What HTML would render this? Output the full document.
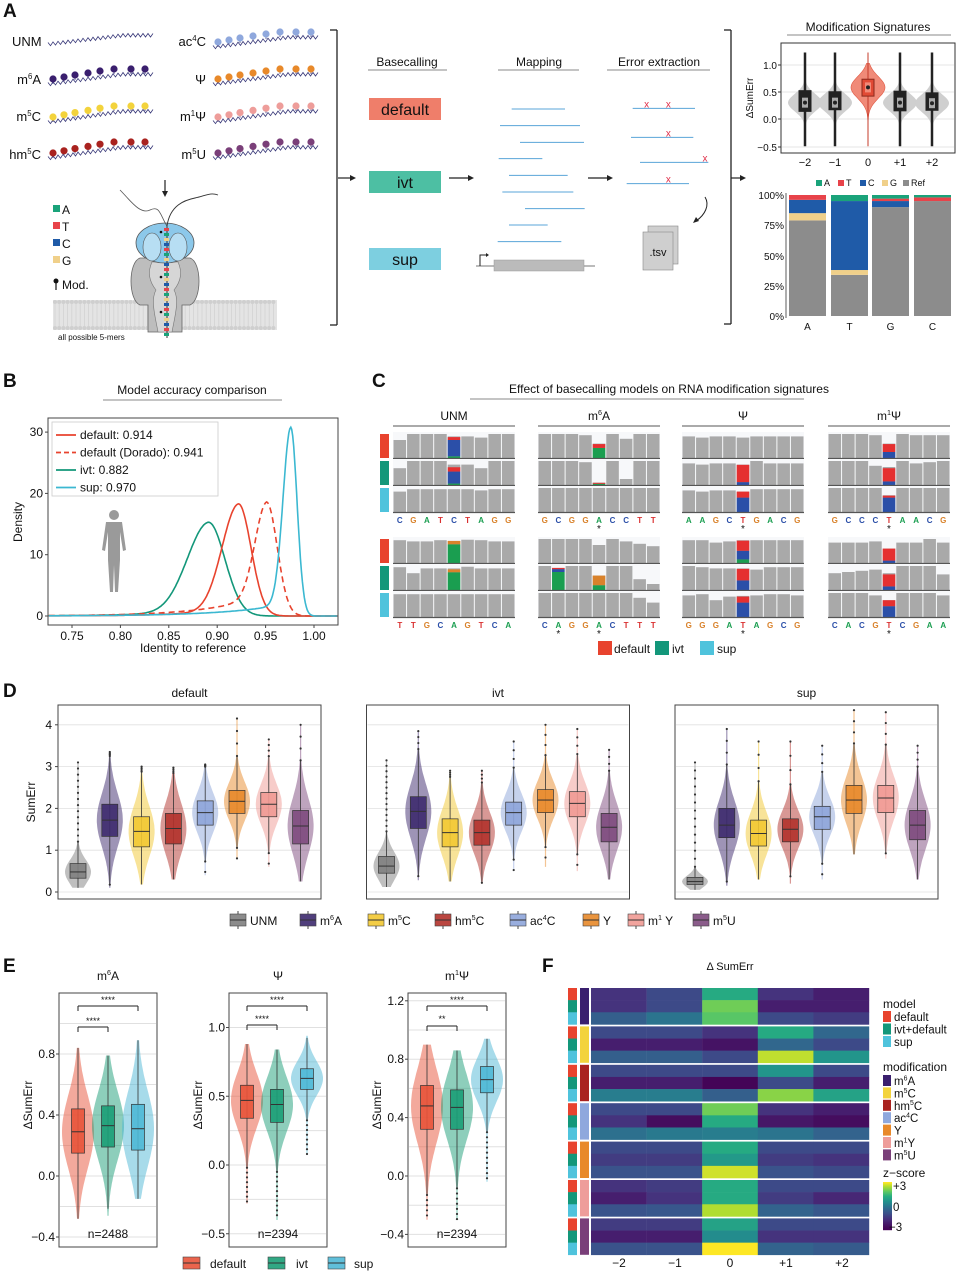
<!DOCTYPE html>
<html><head><meta charset="utf-8"><style>
html,body{margin:0;padding:0;background:#fff;}
svg{display:block;font-family:"Liberation Sans",Arial,sans-serif;}
</style></head><body>
<svg id="s" width="959" height="1280" viewBox="0 0 959 1280" xmlns="http://www.w3.org/2000/svg"></svg>
<script>
let s='';
function T(x,y,t,o){o=o||{};s+=`<text x="${x}" y="${y}" font-size="${o.fs||11}" text-anchor="${o.a||'start'}" fill="${o.c||'#111'}"${o.fw?' font-weight="bold"':''}${o.tr?` transform="${o.tr}"`:''}>${t}</text>`;}
function R(x,y,w,h,f,e){s+=`<rect x="${x}" y="${y}" width="${w}" height="${h}" fill="${f}" ${e||''}/>`;}
function L(x1,y1,x2,y2,c,w,e){s+=`<line x1="${x1}" y1="${y1}" x2="${x2}" y2="${y2}" stroke="${c||'#333'}" stroke-width="${w||1}" ${e||''}/>`;}
function C(x,y,r,f,e){s+=`<circle cx="${x}" cy="${y}" r="${r}" fill="${f}" ${e||''}/>`;}
function P(d,f,st,w,e){s+=`<path d="${d}" fill="${f||'none'}" stroke="${st||'none'}" stroke-width="${w||1}" ${e||''}/>`;}
function sup(b,n,r,fs){return `${b}<tspan dy="-${fs*0.4}" font-size="${fs*0.6}">${n}</tspan><tspan dy="${fs*0.4}">${r}</tspan>`;}
function arrow(x1,y1,x2,y2){L(x1,y1,x2-4,y2,'#222',1.2);P(`M${x2},${y2} l-6,-3 l0,6 z`,'#222');}

// ===== Panel A =====
T(3,17,'A',{fs:19,fw:1});
const modc={m6A:'#3a1f6e',m5C:'#f3d33c',hm5C:'#a9221f',ac4C:'#8fa8dd',Y:'#e8892a',m1Y:'#ee9d9a',m5U:'#7a3f79',UNM:'#7f7f7f'};
function wave(x0,x1,yl,yr,c){let d='';for(let x=x0,i=0;x<=x1;x+=2.5,i++){let t=(x-x0)/(x1-x0);let yb=yl+(yr-yl)*Math.min(1,t*1.4);let y=yb+(i%2?2:-1.5);d+=(i?'L':'M')+x.toFixed(1)+','+y.toFixed(1);}P(d,'none',c||'#3a3a7a',0.8);}
function strand(xs,yl,yr,c){wave(xs[0]-5,xs[7]+8,yl+5,yr+5);xs.forEach((x,i)=>{let t=i/7;let y=yl+(yr-yl)*Math.min(1,t*1.4);L(x,y,x,y+5,'#3a3a7a',0.8);C(x,y,3.6,c);});}
const XL=[53,64,75,88,100,114,131,145],XR=[218,229,240,253,266,280,296,311];
wave(48,154,44,35);
T(12,46,'UNM',{fs:13});
[[79,69,'m6A'],[117,106,'m5C'],[153,142,'hm5C']].forEach(r=>{strand(XL,r[0],r[1],modc[r[2]]);});
T(41,84,sup('m','6','A',13),{fs:13,a:'end'});
T(41,121,sup('m','5','C',13),{fs:13,a:'end'});
T(41,159,sup('hm','5','C',13),{fs:13,a:'end'});
strand(XR,42,32,modc.ac4C);strand(XR,79,69,modc.Y);strand(XR,117,106,modc.m1Y);strand(XR,153,142,modc.m5U);
T(206,46,sup('ac','4','C',13),{fs:13,a:'end'});
T(206,84,'Ψ',{fs:13,a:'end'});
T(206,121,sup('m','1','Ψ',13),{fs:13,a:'end'});
T(206,159,sup('m','5','U',13),{fs:13,a:'end'});
L(165,180,165,193,'#222',1.2);P('M165,197 l-3,-6 l6,0z','#222');
R(53,300,224,30,'#e4e4e4');
for(let x=55;x<277;x+=4.2){C(x,302,2,'#cfcfcf');C(x,328,2,'#cfcfcf');L(x,304,x,326,'#d2d2d2',0.8);}
P('M140,258 C128,262 128,300 140,305 L148,305 L148,332 L182,332 L182,305 L190,305 C202,300 202,262 190,258 Z','#bdbdbd','#666',0.8);
P('M152,262 C146,275 152,285 156,290 C150,300 156,320 158,332 L172,332 C174,320 180,300 174,290 C178,285 184,275 178,262Z','#d6d6d6','#777',0.6);
s+=`<ellipse cx="165" cy="243" rx="29" ry="20" fill="#8cc8ea" stroke="#555" stroke-width="0.8"/>`;
s+=`<ellipse cx="152" cy="247" rx="9" ry="14" fill="#b7def3" stroke="#555" stroke-width="0.6"/>`;
s+=`<ellipse cx="178" cy="247" rx="9" ry="14" fill="#b7def3" stroke="#555" stroke-width="0.6"/>`;
P('M120,190 C130,200 140,215 150,210 S160,215 167,226','none','#555',0.8);
P('M167,226 C170,205 185,200 195,198 S210,192 218,195','none','#333',0.9);
L(167,225,167,338,'#333',1);
const bc=['#e8434a','#1aa37a','#f0d08a','#1f5ba8'];
for(let i=0;i<22;i++){R(164,228+i*5,5,3,bc[i%4]);}
[[161,232],[161,277],[161,312]].forEach(p=>C(p[0],p[1],1.3,'#111'));
[['A','#1aa37a',214],['T','#e8434a',231],['C','#1f5ba8',248],['G','#f0d08a',265]].forEach(a=>{R(53,a[2]-9,7,7,a[1]);T(62,a[2],a[0],{fs:12});});
C(56,281,2.5,'#111');L(56,281,56,290,'#111',1.2);T(62,289,'Mod.',{fs:12});
T(58,340,'all possible 5-mers',{fs:8});
L(337,30,337,325,'#222',1.3);L(330,30,337,30,'#222',1.3);L(330,325,337,325,'#222',1.3);
arrow(338,178,356,178);
T(407,66,'Basecalling',{fs:12,a:'middle'});L(368,70,447,70,'#888',1);
R(369,98,72,22,'#ef7e6a');T(405,115,'default',{fs:16,a:'middle'});
R(369,171,72,22,'#4dbfa3');T(405,188,'ivt',{fs:16,a:'middle'});
R(369,248,72,22,'#7dcfe0');T(405,265,'sup',{fs:16,a:'middle'});
arrow(449,178,474,178);
T(539,66,'Mapping',{fs:12,a:'middle'});L(498,70,579,70,'#888',1);
[[545,705,207],[510,750,257],[570,762,307],[506,637,356],[537,713,406],[517,730,456],[585,764,506],[537,653,555],[503,694,605]].forEach(l=>L(l[0]/3+330,l[2]/3+40,l[1]/3+330,l[2]/3+40,'#5aa5d8',1));
L(476,266,595,266,'#777',1);R(494,260,90,11,'#bbb','stroke="#999" stroke-width="0.5"');
P('M480,266 L480,255 L487,255','none','#222',1);P('M489,255 l-3,-2 l0,4z','#222');
arrow(588,178,613,178);
T(659,66,'Error extraction',{fs:12,a:'middle'});L(607,70,710,70,'#888',1);
[[908,1095,205,[950,1015]],[903,1090,292,[1015]],[930,1135,367,[1125]],[890,1077,431,[1015]]].forEach(l=>{let y=l[2]/3+40;L(l[0]/3+330,y,l[1]/3+330,y,'#5aa5d8',1);l[3].forEach(x=>T(x/3+330,y-1,'x',{fs:10,a:'middle',c:'#e0304a'}));});
P('M705,197 C710,205 705,215 696,221','none','#222',1);P('M693,223 l3,-6 l3,4z','#222');
R(648,226,30,38,'#cfcfcf','stroke="#888" stroke-width="0.6"');R(643,232,30,38,'#cfcfcf','stroke="#888" stroke-width="0.6"');
T(658,256,'.tsv',{fs:11,a:'middle'});
L(731,30,731,324,'#222',1.3);L(724,30,731,30,'#222',1.3);L(724,324,731,324,'#222',1.3);
arrow(731,178,746,178);
T(868,31,'Modification Signatures',{fs:12,a:'middle'});L(787,35,951,35,'#888',1);
R(781,43,174,110,'#fff','stroke="#333" stroke-width="1"');
[[1,65],[0.5,92],[0,119],[-0.5,147]].forEach(t=>{L(782,t[1],954,t[1],'#ddd',0.8);T(777,t[1]+4,t[0]==1?'1.0':t[0]==0.5?'0.5':t[0]==0?'0.0':'−0.5',{fs:10,a:'end'});L(778,t[1],781,t[1],'#333');});
T(753,98,'ΔSumErr',{fs:10,a:'middle',tr:'rotate(-90 753 98)'});
const yv=v=>119-v*54.5;
[[805,.3,.14,.52,'−2'],[835,.3,.17,.5,'−1'],[868,.58,.42,.73,'0'],[900,.3,.15,.51,'+1'],[932,.29,.16,.48,'+2']].forEach(b=>{
 let red=b[4]=='0';let pts=[],pts2=[];for(let v=-0.3;v<=1.05;v+=0.03){let w=17*Math.exp(-0.5*Math.pow((v-b[1])/(red?0.2:0.16),2));pts.push([b[0]-w,yv(v)]);pts2.unshift([b[0]+w,yv(v)]);}
 P('M'+pts.concat(pts2).map(p=>p[0].toFixed(1)+','+p[1].toFixed(1)).join('L')+'Z',red?'#f08a78':'#cfcfcf',red?'#e05a45':'none',0.6);
 L(b[0],yv(-0.5),b[0],yv(1.22),red?'#c43b2a':'#222',red?1:2.5);
 R(b[0]-6,yv(b[3]),12,yv(b[2])-yv(b[3]),red?'#e24a35':'#222','stroke="'+(red?'#8a2a1d':'#222')+'" stroke-width="1"');
 R(b[0]-3,yv(b[1])-5,6,10,red?'#f28a78':'#aaa');C(b[0],yv(b[1]),2,'#222');
 T(b[0],166,b[4],{fs:11,a:'middle'});});
[['A','#1aa37a',816],['T','#e8434a',838],['C','#1f5ba8',860],['G','#f0d08a',882],['Ref','#8c8c8c',903]].forEach(l=>{R(l[2],180,6,6,l[1]);T(l[2]+8,186,l[0],{fs:9});});
[['100%',195],['75%',225],['50%',256],['25%',286],['0%',316]].forEach(t=>T(784,t[1]+4,t[0],{fs:10,a:'end'}));
L(786,193,786,318,'#333',0.8);
const ys=p=>316-p*1.21;
[[789,'A',[[0,79,'#8c8c8c'],[79,85,'#f0d08a'],[85,96,'#1f5ba8'],[96,100,'#e8434a']]],[831,'T',[[0,34,'#8c8c8c'],[34,38,'#f0d08a'],[38,95,'#1f5ba8'],[95,100,'#1aa37a']]],[872,'G',[[0,90,'#8c8c8c'],[90,95,'#1f5ba8'],[95,97,'#e8434a'],[97,100,'#1aa37a']]],[914,'C',[[0,95,'#8c8c8c'],[95,98,'#e8434a'],[98,100,'#1aa37a']]]].forEach(b=>{b[2].forEach(g=>R(b[0],ys(g[1]),37,ys(g[0])-ys(g[1]),g[2]));T(b[0]+18.5,330,b[1],{fs:10,a:'middle'});});

// ===== Panel B =====
T(3,387,'B',{fs:19,fw:1});
T(192,394,'Model accuracy comparison',{fs:12,a:'middle'});L(103,400,282,400,'#888',1);
R(48,418,290,207,'#fff','stroke="#444" stroke-width="1"');
const bx=v=>72+(v-0.75)*968,by=d=>616-d*6.13;
[[0.75,'0.75'],[0.8,'0.80'],[0.85,'0.85'],[0.9,'0.90'],[0.95,'0.95'],[1,'1.00']].forEach(t=>{L(bx(t[0]),625,bx(t[0]),628,'#444');T(bx(t[0]),640,t[1],{fs:12,a:'middle'});});
[[0,'0'],[10,'10'],[20,'20'],[30,'30']].forEach(t=>{L(45,by(t[0]),48,by(t[0]),'#444');T(43,by(t[0])+4,t[1],{fs:12,a:'end'});});
T(193,652,'Identity to reference',{fs:12,a:'middle'});
T(22,522,'Density',{fs:12,a:'middle',tr:'rotate(-90 22 522)'});
function dens(m,h,sl,sr,tw,tl){let d='';for(let v=0.726;v<=1.024;v+=0.001){let y;if(v>=m)y=h*Math.exp(-0.5*Math.pow((v-m)/sr,2));else y=h*((1-tw)*Math.exp(-0.5*Math.pow((v-m)/sl,2))+tw*Math.exp((v-m)/tl));d+=(d?'L':'M')+bx(v).toFixed(1)+','+by(y).toFixed(1);}return d;}
P(dens(0.891,15.3,0.022,0.017,0.08,0.05),'none','#13977a',1.6);
P(dens(0.922,18.3,0.017,0.013,0.07,0.05),'none','#e8432e',1.6);
P(dens(0.951,18.6,0.012,0.011,0.2,0.055),'none','#e8432e',1.6,'stroke-dasharray="6,4"');
P(dens(0.976,30.8,0.008,0.0065,0.07,0.06),'none','#3bb8d1',1.6);
R(52,422,166,74,'#fff','stroke="#ccc" stroke-width="0.8"');
[['default: 0.914','#e8432e',''],['default (Dorado): 0.941','#e8432e','stroke-dasharray="5,3"'],['ivt: 0.882','#13977a',''],['sup: 0.970','#3bb8d1','']].forEach((l,i)=>{let y=435+i*17.5;L(56,y,76,y,l[1],1.8,l[2]);T(80,y+4,l[0],{fs:12});});
s+=`<g fill="#9a9a9a"><circle cx="114" cy="515" r="5"/><path d="M106,522 L122,522 L126,550 L123,551 L120,532 L120,560 L118,592 L115,592 L114,565 L113,592 L110,592 L108,560 L108,532 L105,551 L102,550 Z"/></g>`;

// ===== Panel C =====
T(372,387,'C',{fs:19,fw:1});
T(669,393,'Effect of basecalling models on RNA modification signatures',{fs:12,a:'middle'});L(470,399,804,399,'#888',1);
const cx0=[393,538,682,828];
[['UNM'],[sup('m','6','A',12)],['Ψ'],[sup('m','1','Ψ',12)]].forEach((h,i)=>{T(cx0[i]+61,420,h[0],{fs:12,a:'middle'});L(cx0[i],426,cx0[i]+122,426,'#777',1.2);});
const G='#1a9e50',B='#2b4fa8',Rr='#e53030',Or='#d9822b';
const bcol={A:'#1a9e50',C:'#2b4fa8',G:'#d9822b',T:'#d93030'};
const groups=[
 {top:432,seqs:['CGATCTAGG','GCGGACCTT','AAGCTGACG','GCCCTAACG'],star:[[],[4],[4],[4]],
  rows:[
   [[[.75,1,1,1,.9,.9,.85,1,1],{4:[[G,.07],[B,.68],[Rr,.12]]}],[[.7,1,1,1,.85,.85,.7,1,1],{4:[[G,.06],[B,.5],[Rr,.18]]}],[[.85,.95,.95,.95,.95,.95,.9,.95,.95],{}]],
   [[[1,1,1,.95,.6,1,.8,1,1],{4:[[G,.42],[Rr,.16]]}],[[1,1,1,.95,.1,1,.25,1,1],{4:[[G,.05],[Rr,.04]]}],[[1,1,1,1,1,1,1,1,1],{}]],
   [[[.9,.85,.9,.9,.85,.9,.9,.9,.9],{}],[[.9,.85,.9,.9,.85,1,.9,.9,.9],{4:[[B,.12],[Rr,.72]]}],[[.9,.85,.9,.9,.85,.95,.95,.95,.95],{4:[[B,.6],[Rr,.25]]}]],
   [[[1,1,1,.95,.6,1,.95,.95,.95],{4:[[B,.25],[Rr,.33]]}],[[1,1,1,.8,.75,1,.9,.95,1],{4:[[B,.15],[Rr,.55]]}],[[1,1,1,1,.7,1,1,1,1],{4:[[B,.6],[Rr,.08]]}]]]},
 {top:537,seqs:['TTGCAGTCA','CAGGACTTT','GGGATAGCG','CACGTCGAA'],star:[[],[1,4],[4],[4]],
  rows:[
   [[[.95,.9,.9,.95,.92,.97,.95,.9,.9],{4:[[G,.78],[Or,.14]]}],[[.95,.7,.9,.9,.9,.97,.9,.9,.9],{4:[[G,.74],[Or,.12]]}],[[.95,.95,.95,.95,.95,.95,.95,.95,.95],{}]],
   [[[1,1,1,1,.75,1,.9,.8,.7],{}],[[1,.92,1,1,.6,1,1,.45,.25],{1:[[G,.75],[B,.12],[Rr,.05]],4:[[G,.2],[Or,.4]]}],[[1,1,1,1,1,1,1,.8,.6],{}]],
   [[[.95,.95,.85,.9,.95,.95,.95,.95,.95],{4:[[G,.15],[B,.36],[Rr,.42]]}],[[1,.95,.9,.9,.9,.85,.95,.95,.95],{4:[[B,.4],[Rr,.48]]}],[[.9,.95,.7,.85,.88,.9,.95,.95,.9],{4:[[B,.6],[Rr,.25]]}]],
   [[[.85,.85,.85,.9,.6,.85,.85,1,.85],{4:[[B,.1],[Rr,.5]]}],[[.7,.75,.8,.85,.7,1,1,1,.65],{4:[[B,.15],[Rr,.5]]}],[[1,1,1,.9,.7,1,1,1,.9],{4:[[B,.45],[Rr,.25]]}]]]}];
const rowc=['#e8432e','#13977a','#4fc3dc'];
groups.forEach(g=>{
 for(let r=0;r<3;r++){R(380,g.top+r*27+2,9,24,rowc[r]);}
 g.seqs.forEach((sq,ci)=>{let x0=cx0[ci],bw=122/9;
  for(let r=0;r<3;r++){let yb=g.top+r*27+26,H=24;let row=g.rows[ci][r];
   R(x0,g.top+r*27,122,27,'#f7f8fa');
   row[0].forEach((h,k)=>{let segs=row[1][k];let x=x0+k*bw+0.5;
    if(segs){let tot=segs.reduce((a,b)=>a+b[1],0);let y=yb;let hh=Math.max(tot,h);R(x,yb-hh*H,bw-1,hh*H,'#a9a9a9');segs.forEach(sg=>{R(x,y-sg[1]*H,bw-1,sg[1]*H,sg[0]);y-=sg[1]*H;});}
    else R(x,yb-h*H,bw-1,h*H,'#a9a9a9');});
   L(x0,yb+0.5,x0+122,yb+0.5,'#555',1.2);}
  [...sq].forEach((c,k)=>T(x0+k*bw+bw/2,g.top+91,c,{fs:8,a:'middle',c:bcol[c],fw:1}));
  g.star[ci].forEach(k=>T(x0+k*bw+bw/2,g.top+100,'*',{fs:10,a:'middle'}));
 });});
R(598,641,14,14,'#e8432e');T(614,653,'default',{fs:12});
R(655,641,14,14,'#13977a');T(672,653,'ivt',{fs:12});
R(700,641,14,14,'#4fc3dc');T(717,653,'sup',{fs:12});

// ===== Panel D =====
T(3,697,'D',{fs:19,fw:1});
const dcol=['#808080','#3d2a6e','#f2c832','#b2322b','#8ea5da','#e8892a','#ef9a93','#7d4a7d'];
function violin(cx,ymap,med,q1,q3,mn,mx,col,W,bw,outTop,outBot){
 let sd=(q3-q1)/1.2;let L1=[],R1=[];
 for(let v=mn;v<=mx+1e-9;v+=(mx-mn)/60){let w=W*Math.exp(-0.5*Math.pow((v-med)/sd,2));w=Math.max(w,0.6);L1.push([cx-w,ymap(v)]);R1.unshift([cx+w,ymap(v)]);}
 P('M'+L1.concat(R1).map(p=>p[0].toFixed(1)+','+p[1].toFixed(1)).join('L')+'Z',col,'none',0,'fill-opacity="0.5"');
 let wl=Math.max(mn,q1-1.5*(q3-q1)),wh=Math.min(mx,q3+1.5*(q3-q1));
 L(cx,ymap(wl),cx,ymap(wh),'#333',0.8);
 (outTop||[]).forEach(v=>C(cx,ymap(v),1.1,'#333'));(outBot||[]).forEach(v=>C(cx,ymap(v),1.1,'#333'));
 R(cx-bw/2,ymap(q3),bw,ymap(q1)-ymap(q3),col,'fill-opacity="0.9" stroke="#333" stroke-width="0.7"');
 L(cx-bw/2,ymap(med),cx+bw/2,ymap(med),'#333',1);
}
const dd=[
 [[.48,.33,.68,.1,3.1],[1.72,1.33,2.1,.1,3.35],[1.45,1.08,1.8,.18,3.0],[1.52,1.15,1.88,.3,2.85],[1.9,1.6,2.18,.4,3.0],[2.17,1.88,2.43,.8,4.15],[2.1,1.8,2.38,.6,3.65],[1.58,1.15,1.95,.25,4.0]],
 [[.62,.45,.85,.12,3.15],[1.93,1.52,2.28,.28,3.85],[1.42,1.08,1.75,.25,2.9],[1.42,1.12,1.72,.2,2.9],[1.9,1.6,2.15,.5,3.6],[2.2,1.9,2.45,.6,4.0],[2.12,1.8,2.4,.5,3.9],[1.55,1.2,1.88,.3,3.4]],
 [[.25,.18,.35,.05,3.1],[1.6,1.3,2.0,.15,3.9],[1.4,1.1,1.72,.3,3.6],[1.5,1.2,1.75,.2,3.6],[1.8,1.5,2.05,.3,3.5],[2.2,1.88,2.55,.9,4.35],[2.25,1.9,2.55,.8,4.3],[1.6,1.25,1.95,.3,3.5]]];
['default','ivt','sup'].forEach((t,pi)=>{
 let x0=58+pi*308.5,w=263;let ym=v=>892-v*41.8;
 T(x0+w/2,697,t,{fs:12,a:'middle'});
 R(x0,705,w,194,'#fff','stroke="#444" stroke-width="1"');
 [0,1,2,3,4].forEach(v=>{L(x0+1,ym(v),x0+w-1,ym(v),'#e0e0e0',0.8);if(pi==0){L(x0-3,ym(v),x0,ym(v),'#444');T(x0-6,ym(v)+4,v,{fs:12,a:'end'});}});
 dd[pi].forEach((d,k)=>{let cx=x0+20+k*31.8;let ot=[];let n=k==0?14:4;let st=d[2]+1.5*(d[2]-d[1]);for(let i=0;i<n;i++)ot.push(st+(d[4]-st)*i/(n-1));let ob=[];for(let v=d[1]-1.5*(d[2]-d[1]);v>d[3];v-=0.25)ob.push(v);
  violin(cx,ym,d[0],d[1],d[2],d[3],d[4],dcol[k],13,16,ot,ob);});
});
T(35,802,'SumErr',{fs:12,a:'middle',tr:'rotate(-90 35 802)'});
[['UNM',230],[sup('m','6','A',12),300],[sup('m','5','C',12),368],[sup('hm','5','C',12),435],[sup('ac','4','C',12),510],['Y',583],[sup('m','1',' Y',12),628],[sup('m','5','U',12),693]].forEach((l,i)=>{
 R(l[1],914,16,12,dcol[i],'fill-opacity="0.9" stroke="#444" stroke-width="0.6"');L(l[1],920,l[1]+16,920,'#333',1);L(l[1]+8,911,l[1]+8,914,'#444');L(l[1]+8,926,l[1]+8,929,'#444');
 T(l[1]+20,925,l[0],{fs:12});});

// ===== Panel E =====
T(3,972,'E',{fs:19,fw:1});
const ecol=['#e8533a','#1b9e77','#4fb8d6'];
const ep=[
 {x0:59,t:sup('m','6','A',12),ticks:[[0.8,'0.8'],[0.4,'0.4'],[0,'0.0'],[-0.4,'−0.4']],y0:1176,k:152.5,grid:[1.0,0.8,0.6,0.4,0.2,0,-0.2,-0.4],
  d:[[.29,.15,.44,-.28,.84],[.33,.19,.46,-.26,.79],[.31,.17,.47,-.15,.89]],n:'n=2488',br:[[999,1006,'****',2],[1020,1027,'****',1]],cx:[78,108,138]},
 {x0:229,t:'Ψ',ticks:[[1,'1.0'],[0.5,'0.5'],[0,'0.0'],[-0.5,'−0.5']],y0:1165,k:137.5,grid:[1,.75,.5,.25,0,-.25,-.5],
  d:[[.47,.34,.58,-.28,.88],[.44,.31,.55,-.4,.84],[.63,.55,.70,.08,.94]],n:'n=2394',br:[[999,1006,'****',2],[1018,1025,'****',1]],cx:[247,277,307]},
 {x0:408,t:sup('m','1','Ψ',12),ticks:[[1.2,'1.2'],[0.8,'0.8'],[0.4,'0.4'],[0,'0.0'],[-0.4,'−0.4']],y0:1176,k:146,grid:[1.2,1,.8,.6,.4,.2,0,-.2,-.4],
  d:[[.48,.32,.62,-.3,.9],[.47,.32,.59,-.3,.86],[.66,.57,.75,-.04,.94]],n:'n=2394',br:[[999,1006,'****',2],[1018,1026,'**',1]],cx:[427,457,487]}];
ep.forEach((p,pi)=>{
 let ym=v=>p.y0-v*p.k;
 T(p.x0+49,980,p.t,{fs:12,a:'middle'});
 R(p.x0,993,98,254,'#fff','stroke="#444" stroke-width="1"');
 p.grid.forEach(v=>{if(ym(v)>995&&ym(v)<1245)L(p.x0+1,ym(v),p.x0+97,ym(v),'#e0e0e0',1);});
 p.ticks.forEach(t=>{L(p.x0-3,ym(t[0]),p.x0,ym(t[0]),'#444');T(p.x0-4,ym(t[0])+4,t[1],{fs:12,a:'end'});});
 p.d.forEach((d,k)=>{let ob=[];if(pi>0){for(let v=d[1]-1.5*(d[2]-d[1]);v>d[3];v-=0.035)ob.push(v);}violin(p.cx[k],ym,d[0],d[1],d[2],d[3],d[4],ecol[k],16,13,[],ob);});
 p.br.forEach(b=>{let x2=p.cx[b[3]];L(p.cx[0],b[1],x2,b[1],'#222',1);L(p.cx[0],b[1],p.cx[0],b[1]+5,'#222',1);L(x2,b[1],x2,b[1]+5,'#222',1);T((p.cx[0]+x2)/2,b[0]+4,b[2],{fs:9,a:'middle'});});
 T(p.x0+49,1238,p.n,{fs:12,a:'middle'});
 T(p.x0-27,1105,'ΔSumErr',{fs:12,a:'middle',tr:`rotate(-90 ${p.x0-27} 1105)`});
});
[['default',183,206],['ivt',268,292],['sup',328,350]].forEach((l,i)=>{R(l[1],1257,17,12,ecol[i],'fill-opacity="0.9" stroke="#444" stroke-width="0.6"');L(l[1],1263,l[1]+17,1263,'#333',1);T(l[2]+4,1268,l[0],{fs:12});});

// ===== Panel F =====
T(542,972,'F',{fs:19,fw:1});
T(730,970,'Δ SumErr',{fs:11,a:'middle'});
const vs=[[0,[68,1,84]],[0.13,[71,44,122]],[0.25,[59,81,139]],[0.38,[44,113,142]],[0.5,[33,144,141]],[0.63,[39,173,129]],[0.75,[92,200,99]],[0.88,[170,220,50]],[1,[253,231,37]]];
function vir(z){let t=Math.max(0,Math.min(1,(z+3)/6));t=Math.pow(t,1.35);for(let i=1;i<vs.length;i++){if(t<=vs[i][0]){let a=vs[i-1],b=vs[i],f=(t-a[0])/(b[0]-a[0]);return 'rgb('+a[1].map((c,j)=>Math.round(c+(b[1][j]-c)*f)).join(',')+')';}}return 'rgb(253,231,37)';}
const hm=[
 [[-1.5,-1,1.2,-1.5,-2],[-1.5,-1,2,-2,-2],[-0.5,0,1.8,-1,-1.3]],
 [[-1,-1,-1.5,1.2,-0.3],[-2,-2,-2.3,-0.3,-1],[-0.5,-0.5,-1,2.6,0.7]],
 [[-1,-1,-1,0.7,-1],[-2,-2,-2.8,-1,-2],[0.2,0.2,-0.5,2.2,1]],
 [[-1,-1,2,-1.5,-2],[-1.5,-2.5,1.2,-2.2,-2.5],[-0.1,0.1,0.2,0,-0.4]],
 [[-1,-1,1.2,-1,-1],[-1.3,-1.3,0.8,-1.3,-1.5],[-0.8,-0.8,2.7,-0.8,-1]],
 [[-1.5,-1.3,1.2,-1,-1],[-2,-1.5,1.2,-1.3,-1.8],[-0.8,-0.7,2.5,-0.4,-0.7]],
 [[-1.3,-1.3,1,-1,-1],[-2,-2,0.5,-1.5,-1.5],[-0.8,-0.8,3,-0.4,-0.6]]];
const mc=[modc.m6A,modc.m5C,modc.hm5C,modc.ac4C,modc.Y,modc.m1Y,modc.m5U];
const mrc=['#e8432e','#13977a','#4fc3dc'];
hm.forEach((g,gi)=>{let gy=988+gi*38.4;let rh=(38.4-2)/3;
 R(580,gy,9,rh*3,mc[gi]);
 g.forEach((row,ri)=>{let y=gy+ri*rh;R(568,y,9,rh+0.3,mrc[ri]);row.forEach((z,ci)=>R(591+ci*55.6,y,55.8,rh+0.3,vir(z)));});});
[['−2',619],['−1',675],['0',730],['+1',786],['+2',842]].forEach(t=>T(t[1],1267,t[0],{fs:12,a:'middle'}));
T(883,1008,'model',{fs:12});
[['default','#e8432e'],['ivt+default','#13977a'],['sup','#4fc3dc']].forEach((l,i)=>{R(883,1011+i*12.5,8,11,l[1]);T(894,1021+i*12.5,l[0],{fs:11.5});});
T(883,1071,'modification',{fs:12});
[sup('m','6','A',11.5),sup('m','5','C',11.5),sup('hm','5','C',11.5),sup('ac','4','C',11.5),'Y',sup('m','1','Y',11.5),sup('m','5','U',11.5)].forEach((l,i)=>{R(883,1075+i*12.4,8,11,mc[i]);T(894,1085+i*12.4,l,{fs:11.5});});
T(883,1177,'z−score',{fs:12});
for(let i=0;i<48;i++)R(883,1182+i,9,1.2,vir(3-i/48*6));
T(893,1190,'+3',{fs:11.5});T(893,1211,'0',{fs:11.5});T(889,1231,'−3',{fs:11.5});
document.getElementById('s').innerHTML=s;
</script>
</body></html>
